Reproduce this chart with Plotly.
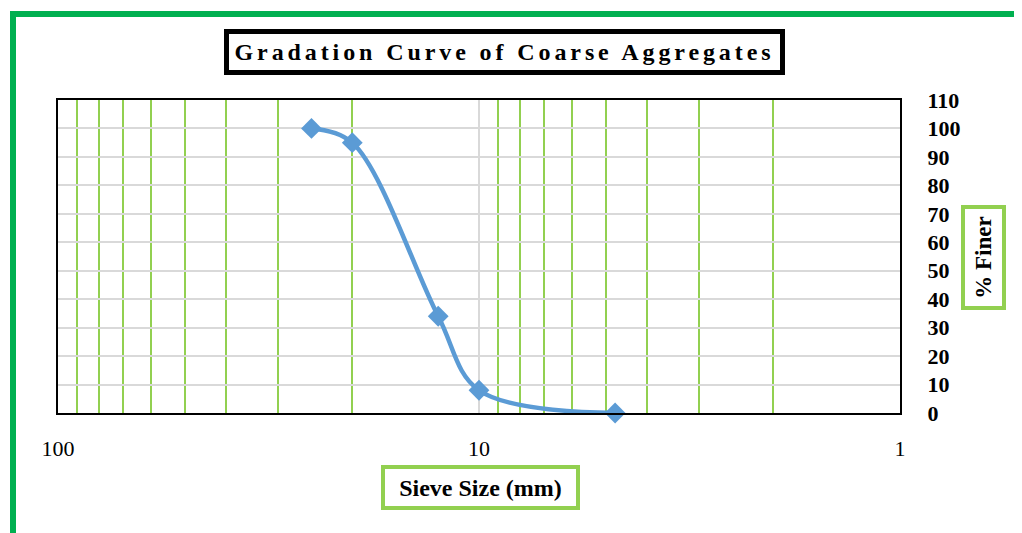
import plotly.graph_objects as go

# ---- data ----
sieve_size_mm = [25, 20, 12.5, 10, 4.75]
percent_finer = [100, 95, 34, 8, 0]
x_tick_vals = [100, 10, 1]
x_tick_text = ["100", "10", "1"]
y_tick_vals = [0, 10, 20, 30, 40, 50, 60, 70, 80, 90, 100, 110]

title_text = "Gradation Curve of Coarse Aggregates"
x_title = "Sieve Size (mm)"
y_title = "% Finer"

FONT = "Liberation Serif"
OFF = 8  # page body margin
W, H = 1022 - OFF, 533 - OFF
L, T = 58 - OFF, 100 - OFF
PR, PB = 900 - OFF, 413 - OFF  # plot right / bottom in figure px
R, B = W - PR, H - PB
PW, PH = PR - L, PB - T


def px_x(px):  # page px -> paper
    return (px - OFF - L) / PW


def px_y(py):
    return (PB - (py - OFF)) / PH


fig = go.Figure()
fig.add_trace(go.Scatter(
    x=sieve_size_mm, y=percent_finer,
    mode="lines+markers",
    line=dict(color="#5B9BD5", width=4.5, shape="spline", smoothing=1.0),
    marker=dict(symbol="diamond", size=16, color="#5B9BD5"),
    showlegend=False,
    cliponaxis=False,
))

fig.update_layout(
    width=W, height=H,
    margin=dict(l=L, r=R, t=T, b=B),
    paper_bgcolor="white", plot_bgcolor="white",
    font=dict(family=FONT, color="black"),
    xaxis=dict(
        type="log", range=[2, 0],
        tickmode="array", tickvals=x_tick_vals, ticktext=x_tick_text,
        showgrid=True, gridcolor="#D9D9D9", gridwidth=2,
        minor=dict(showgrid=True, gridcolor="#92D050", gridwidth=2, dtick="D1"),
        showline=True, linecolor="black", linewidth=2, mirror=True,
        ticks="", zeroline=False,
        tickfont=dict(family=FONT, size=22, color="black"),
        ticklabelstandoff=15,
    ),
    yaxis=dict(
        range=[0, 110], tickmode="array", tickvals=y_tick_vals,
        side="right",
        showgrid=True, gridcolor="#D9D9D9", gridwidth=2,
        showline=True, linecolor="black", linewidth=2, mirror=True,
        ticks="", zeroline=False,
        tickfont=dict(family=FONT, size=22, color="black", weight="bold"),
        ticklabelstandoff=21,
    ),
)

# outer green frame
fig.add_shape(type="rect", xref="paper", yref="paper",
              x0=px_x(13), x1=px_x(1200), y0=px_y(700), y1=px_y(14),
              line=dict(color="#00B050", width=6), layer="below")

# title box
bw, pad = 5, 2
fig.add_annotation(
    xref="paper", yref="paper", x=px_x(504.5), y=px_y(52),
    xanchor="center", yanchor="middle", showarrow=False,
    text='<span style="letter-spacing:3.9px">' + title_text + '</span>',
    font=dict(family=FONT, size=24, color="black", weight="bold"),
    bordercolor="black", borderwidth=bw, borderpad=pad, bgcolor="white",
    width=561 - 2 * (bw + pad), height=46 - 2 * (bw + pad),
)

# x-axis title box
bw2 = 4
fig.add_annotation(
    xref="paper", yref="paper", x=px_x(480.5), y=px_y(487.5),
    xanchor="center", yanchor="middle", showarrow=False,
    text=x_title,
    font=dict(family=FONT, size=24, color="black", weight="bold"),
    bordercolor="#92D050", borderwidth=bw2, borderpad=pad, bgcolor="white",
    width=199 - 2 * (bw2 + pad), height=45 - 2 * (bw2 + pad),
)

# y-axis title box
fig.add_annotation(
    xref="paper", yref="paper", x=px_x(983.5), y=px_y(257.5),
    xanchor="center", yanchor="middle", showarrow=False,
    text=y_title, textangle=-90,
    font=dict(family=FONT, size=23, color="black", weight="bold"),
    bordercolor="#92D050", borderwidth=bw2, borderpad=pad, bgcolor="white",
    width=105 - 2 * (bw2 + pad), height=45 - 2 * (bw2 + pad),
)

fig.write_html("out.html")
